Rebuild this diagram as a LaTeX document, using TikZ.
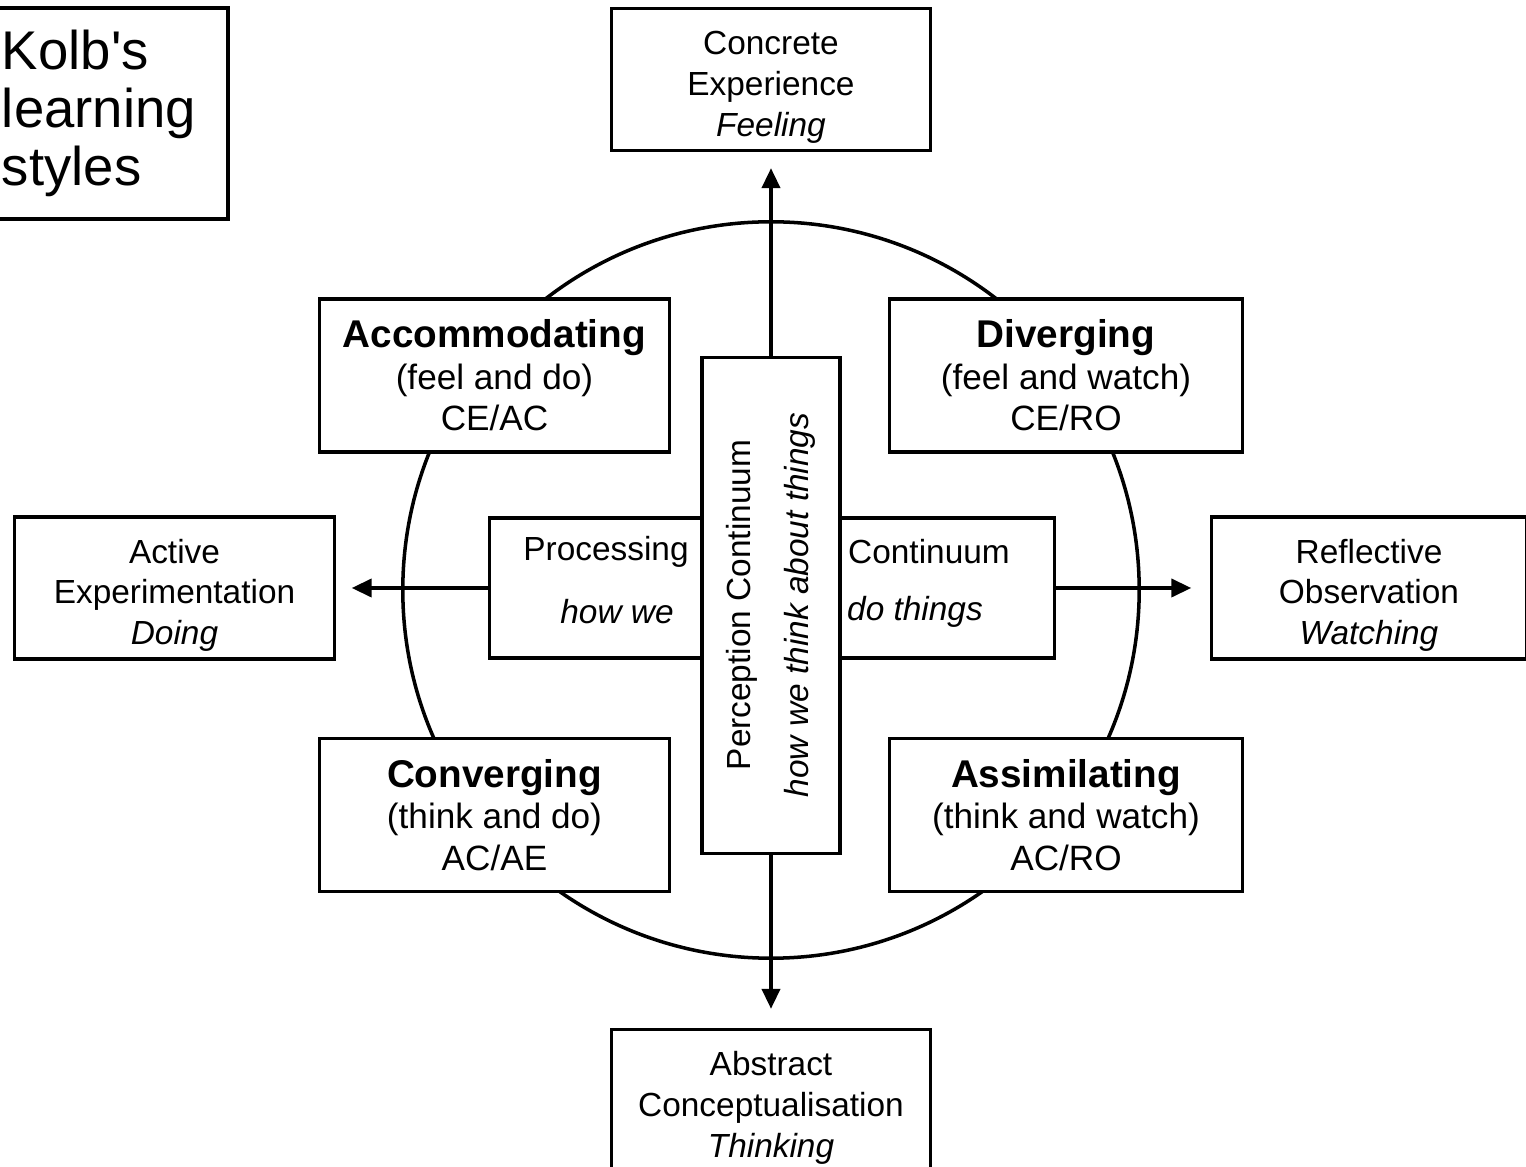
\documentclass[tikz,border=0pt]{standalone}
\usepackage{fontspec}
\setmainfont{Liberation Sans}
\usetikzlibrary{arrows.meta}

\begin{document}
\begin{tikzpicture}[x=0.01cm,y=-0.01cm,
    box/.style={draw,line width=0.9pt,fill=white,rectangle,align=center,inner sep=0pt},
    pole/.style={box,minimum width=3.19cm,minimum height=1.42cm,text width=3.1cm,
        font=\fontsize{9.5}{11.6}\selectfont,execute at begin node={\rule{0pt}{11pt}}},
    quad/.style={box,minimum width=3.5cm,minimum height=1.53cm,font=\fontsize{10}{11.8}\selectfont},
    label/.style={inner sep=0pt,font=\fontsize{9.5}{11.4}\selectfont},
    arr/.style={line width=1.1pt,-{Triangle[length=0.2cm,width=0.18cm]}}]
    \useasboundingbox (0,0) rectangle (1526,1167);
    \clip (0,0) rectangle (1526,1167);

    % the circle behind everything
    \draw[line width=1pt] (771,590) circle [radius=3.68cm];

    % title
    \node[box,minimum width=2.38cm,minimum height=2.11cm,text width=2.14cm,align=left,
        font=\fontsize{15.5}{16.6}\selectfont] (title) at (109,113.5)
        {Kolb\textquotesingle s\\learning\\styles};

    % the four poles
    \node[pole] (ce) at (771,79.5) {Concrete\\Experience\\\textit{Feeling}};
    \node[pole] (ac) at (771,1100.5) {Abstract\\Conceptualisation\\\textit{Thinking}};
    \node[pole] (ae) at (174.5,588) {Active\\Experimentation\\\textit{Doing}};
    \node[pole,minimum width=3.14cm] (ro) at (1369,588) {Reflective\\Observation\\\textit{Watching}};

    % processing continuum
    \node[box,minimum width=5.64cm,minimum height=1.4cm] (proc) at (772,588) {};
    \node[label] (proc-a) at (606,552) {Processing};
    \node[label] (proc-b) at (929,552) {Continuum};
    \node[label] (proc-c) at (617,612) {\textit{how we}};
    \node[label] (proc-d) at (915,612) {\textit{do things}};

    % perception continuum
    \node[box,minimum width=1.38cm,minimum height=4.95cm] (perc) at (771,605.5) {};
    \node[label,rotate=90] (perc-a) at (742,605) {Perception Continuum};
    \node[label,rotate=90] (perc-b) at (800,605) {\textit{how we think about things}};

    % learning styles
    \node[quad] (acc) at (494.5,375.5) {\textbf{\fontsize{11}{11.8}\selectfont Accommodating}\\(feel and do)\\CE/AC};
    \node[quad,minimum width=3.52cm] (div) at (1066,375.5) {\textbf{\fontsize{11}{11.8}\selectfont Diverging}\\(feel and watch)\\CE/RO};
    \node[quad] (con) at (494.5,815) {\textbf{\fontsize{11}{11.8}\selectfont Converging}\\(think and do)\\AC/AE};
    \node[quad,minimum width=3.52cm] (ass) at (1066,815) {\textbf{\fontsize{11}{11.8}\selectfont Assimilating}\\(think and watch)\\AC/RO};

    % axes
    \draw[arr,shorten >=0.16cm] (perc.north) -- (ce.south);
    \draw[arr,shorten >=0.19cm] (perc.south) -- (ac.north);
    \draw[arr,shorten >=0.16cm] (proc.west) -- (ae.east);
    \draw[arr,shorten >=0.19cm] (proc.east) -- (ro.west);
\end{tikzpicture}
\end{document}
